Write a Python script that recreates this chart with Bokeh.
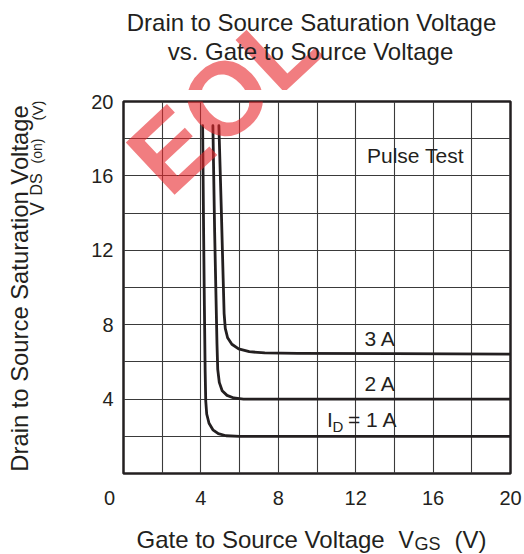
import math
from bokeh.plotting import figure
from bokeh.layouts import column, row
from bokeh.models import Label, FixedTicker, Range1d
from bokeh.embed import file_html
from bokeh.resources import INLINE

# ---- data ----
x_ticks = [0, 4, 8, 12, 16, 20]
y_ticks = [4, 8, 12, 16, 20]
grid_ticks = [2, 4, 6, 8, 10, 12, 14, 16, 18]

vgs_1a = [4.09, 4.14, 4.18, 4.22, 4.25, 4.30, 4.42, 4.62, 4.90, 5.30, 6.00, 20.0]
vds_1a = [18.7, 13.0, 9.0, 5.5, 3.9, 3.2, 2.7, 2.35, 2.14, 2.03, 2.0, 2.0]

vgs_2a = [4.62, 4.71, 4.78, 4.83, 4.87, 4.95, 5.10, 5.35, 5.70, 6.20, 20.0]
vds_2a = [18.7, 13.0, 9.5, 7.0, 5.6, 4.9, 4.45, 4.2, 4.06, 4.0, 4.0]

vgs_3a = [4.93, 5.06, 5.15, 5.20, 5.26, 5.38, 5.60, 5.95, 6.50, 7.30, 9.0, 14.0, 20.0]
vds_3a = [18.7, 14.0, 10.5, 8.6, 7.8, 7.3, 6.95, 6.7, 6.55, 6.48, 6.46, 6.44, 6.42]

curves = [(vgs_1a, vds_1a), (vgs_2a, vds_2a), (vgs_3a, vds_3a)]

INK = "#231f20"
FONT = "Liberation Sans"
WM_COLOR = "#e8262b"
WM_ALPHA = 0.6
MID = 0.3465  # box centre above the baseline, in em

# ---- page geometry (pixels) ----
PAGE_W, PAGE_H = 524, 554
TITLE_H = 90
YLAB_W = 50
XLAB_H = 39
MAIN_W = PAGE_W - YLAB_W
MAIN_H = PAGE_H - TITLE_H - XLAB_H
FRAME_L, FRAME_R, FRAME_T, FRAME_B = 123, 510, 101, 473
BORDER_T = FRAME_T - TITLE_H
BORDER_B = (TITLE_H + MAIN_H) - FRAME_B


def anchor(px, py, size, angle):
    a = math.radians(angle)
    d = MID * size
    return px - d * math.sin(a), py - d * math.cos(a)


def text_canvas(w, h, y0, y1, bt=0, bb=0):
    f = figure(width=w, height=h, output_backend="svg", toolbar_location=None,
               x_range=Range1d(0, w), y_range=Range1d(y1, y0),
               x_axis_location=None, y_axis_location=None,
               min_border_left=0, min_border_right=0,
               min_border_top=bt, min_border_bottom=bb)
    f.grid.visible = False
    f.outline_line_color = None
    f.background_fill_color = "white"
    f.border_fill_color = "white"
    return f


def put(fig, text, px, py, size, align="left", angle=0,
        color=INK, alpha=1.0, style="normal"):
    ax_, ay_ = anchor(px, py, size, angle)
    fig.add_layout(Label(x=ax_, y=ay_, text=text, text_font=FONT,
                         text_font_size=f"{size}px", text_align=align,
                         text_baseline="middle", text_color=color,
                         text_alpha=alpha, text_font_style=style,
                         angle=angle, angle_units="deg"))


# ---- main plot ----
p = figure(width=MAIN_W, height=MAIN_H, output_backend="svg", toolbar_location=None,
           x_range=Range1d(0, 20), y_range=Range1d(0, 20),
           min_border_left=FRAME_L - YLAB_W, min_border_right=PAGE_W - FRAME_R,
           min_border_top=BORDER_T, min_border_bottom=BORDER_B)
p.background_fill_color = "white"
p.border_fill_color = "white"
p.outline_line_color = INK
p.outline_line_width = 2.5

for ax in (p.xaxis[0], p.yaxis[0]):
    ax.axis_line_color = None
    ax.major_tick_line_color = None
    ax.minor_tick_line_color = None
    ax.major_tick_in = 0
    ax.major_tick_out = 0
    ax.minor_tick_in = 0
    ax.minor_tick_out = 0
    ax.major_label_text_font = FONT
    ax.major_label_text_font_size = "20px"
    ax.major_label_text_color = INK
p.xaxis.ticker = FixedTicker(ticks=x_ticks)
p.yaxis.ticker = FixedTicker(ticks=y_ticks)
# the origin label sits left of the corner, as in the reference
p.xaxis.major_label_overrides = {0: "0" + "\u00a0" * 5}
p.xaxis.major_label_standoff = 13
p.yaxis.major_label_standoff = 10

p.xgrid.ticker = FixedTicker(ticks=grid_ticks)
p.ygrid.ticker = FixedTicker(ticks=grid_ticks)
for g in (p.xgrid[0], p.ygrid[0]):
    g.grid_line_color = "#3a3a3a"
    g.grid_line_width = 1.1

for xs, ys in curves:
    p.line(xs, ys, line_color=INK, line_width=2.8, line_join="round", line_cap="round")

sx_per = (FRAME_R - FRAME_L) / 20.0
sy_per = (FRAME_B - FRAME_T) / 20.0


def X(px):
    return (px - FRAME_L) / sx_per


def Y(py):
    return (FRAME_B - py) / sy_per


def lab(text, px, py, size, align="left", angle=0, color=INK, alpha=1.0, style="normal"):
    ax_, ay_ = anchor(px, py, size, angle)
    p.add_layout(Label(x=X(ax_), y=Y(ay_), text=text, text_font=FONT,
                       text_font_size=f"{size}px", text_align=align,
                       text_baseline="middle", text_color=color, text_alpha=alpha,
                       text_font_style=style, angle=angle, angle_units="deg"))


# watermark (split over the canvases it crosses)
WM = dict(text="EOL", px=169, py=199, size=104, angle=43,
          color=WM_COLOR, alpha=WM_ALPHA, style="bold")
lab(WM["text"], WM["px"], WM["py"], WM["size"], angle=WM["angle"],
    color=WM["color"], alpha=WM["alpha"], style=WM["style"])

# in-plot annotations
lab("Pulse Test", 366.5, 162.7, 21)
lab("3 A", 364, 345.7, 21)
lab("2 A", 364, 390, 21)
lab("I", 326.5, 426.7, 21)
lab("D", 332, 430.7, 15)
lab("= 1 A", 347.5, 426.7, 21)

# ---- title canvas (coordinates = page pixels) ----
t = text_canvas(PAGE_W, TITLE_H, 0, TITLE_H)
put(t, WM["text"], WM["px"], WM["py"], WM["size"], angle=WM["angle"],
    color=WM["color"], alpha=WM["alpha"], style=WM["style"])
put(t, "Drain to Source Saturation Voltage", 311, 30, 24, align="center")
put(t, "vs. Gate to Source Voltage", 310, 59, 24, align="center")

# ---- y label canvas (frame matches the plot frame rows) ----
yl = text_canvas(YLAB_W, MAIN_H, FRAME_T, FRAME_B, bt=BORDER_T, bb=BORDER_B)
put(yl, "Drain to Source Saturation Voltage", 27, 288, 23.8, align="center", angle=90)
put(yl, "V", 43, 215, 20, angle=90)
put(yl, "DS", 42, 195, 16, angle=90)
put(yl, "(on)", 41, 163, 14, angle=90)
put(yl, "(V)", 42, 120, 15, angle=90)

# ---- x label canvas ----
xl = text_canvas(PAGE_W, XLAB_H, TITLE_H + MAIN_H, PAGE_H)
put(xl, "Gate to Source Voltage", 136, 547, 24)
put(xl, "V", 398, 547, 23)
put(xl, "GS", 414, 550, 18)
put(xl, "(V)", 454, 547, 24)

layout = column(t, row(yl, p), xl)
open("out.html", "w").write(file_html(layout, INLINE))
